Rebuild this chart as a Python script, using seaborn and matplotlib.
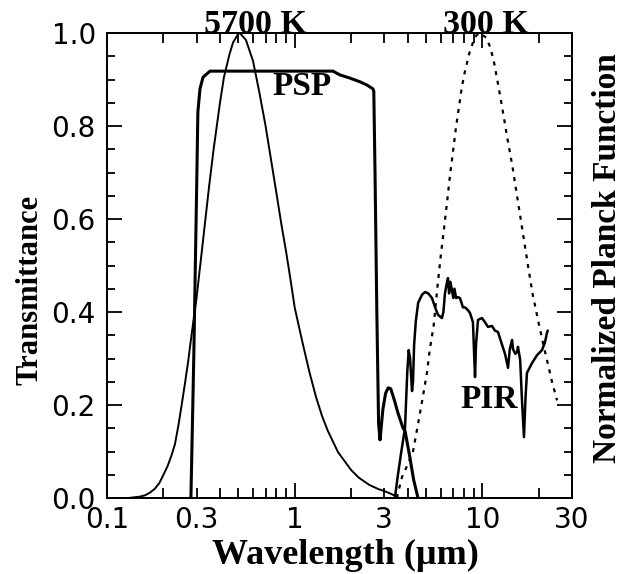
import numpy as np
import pandas as pd
import seaborn as sns
import matplotlib
matplotlib.use("Agg")
import matplotlib.pyplot as plt
from matplotlib.ticker import FixedLocator, FuncFormatter

# Normalized Planck function, 5700 K
wl_5700 = [0.13, 0.15, 0.16, 0.17, 0.18, 0.19, 0.20, 0.21, 0.22, 0.23, 0.24, 0.25,
           0.26, 0.27, 0.28, 0.30, 0.32, 0.35, 0.37, 0.40, 0.42, 0.45, 0.47, 0.50,
           0.51, 0.55, 0.60, 0.65, 0.70, 0.75, 0.80, 0.85, 0.90, 0.95, 1.0, 1.1,
           1.2, 1.3, 1.4, 1.5, 1.7, 2.0, 2.2, 2.5, 2.8, 3.0, 3.3, 3.6]
planck_5700 = [0.0, 0.003, 0.006, 0.012, 0.02, 0.032, 0.05, 0.068, 0.09, 0.115, 0.155, 0.20,
               0.245, 0.29, 0.34, 0.43, 0.53, 0.67, 0.75, 0.85, 0.905, 0.955, 0.98, 0.998,
               1.0, 0.985, 0.94, 0.87, 0.80, 0.725, 0.655, 0.588, 0.53, 0.47, 0.41, 0.335,
               0.27, 0.217, 0.176, 0.145, 0.099, 0.06, 0.0435, 0.028, 0.019, 0.015, 0.008, 0.0]

# Normalized Planck function, 300 K
wl_300 = [3.5, 3.73, 4.0, 4.27, 4.5, 4.83, 5.07, 5.25, 5.5, 5.75, 6.0, 6.25, 6.5, 6.75,
          7.0, 7.25, 7.5, 7.75, 8.0, 8.5, 9.0, 9.3, 9.66, 10.5, 11.0, 11.5, 12.0, 12.5,
          13.0, 13.5, 14.0, 14.5, 15.0, 16.0, 17.5, 18.5, 20.0, 21.0, 22.0, 23.5, 25.0]
planck_300 = [0.0, 0.045, 0.072, 0.10, 0.15, 0.22, 0.27, 0.32, 0.37, 0.45, 0.52, 0.58,
              0.64, 0.70, 0.75, 0.80, 0.84, 0.88, 0.91, 0.955, 0.985, 0.995, 1.0, 0.99,
              0.97, 0.94, 0.90, 0.86, 0.82, 0.78, 0.745, 0.71, 0.672, 0.60, 0.50, 0.44,
              0.374, 0.335, 0.30, 0.25, 0.21]

# PSP transmittance
wl_psp = [0.28, 0.29, 0.30, 0.305, 0.313, 0.325, 0.354, 0.8, 1.6, 1.74, 1.97, 2.23,
          2.43, 2.61, 2.64, 2.68, 2.74, 2.80, 2.85, 2.95, 3.05, 3.15, 3.25, 3.4, 3.55,
          3.78, 3.87, 4.1, 4.3, 4.54]
t_psp = [0.0, 0.30, 0.65, 0.83, 0.88, 0.905, 0.918, 0.918, 0.918, 0.91, 0.903, 0.895,
         0.888, 0.88, 0.875, 0.70, 0.40, 0.16, 0.125, 0.19, 0.225, 0.237, 0.235, 0.21, 0.183,
         0.15, 0.145, 0.09, 0.04, 0.0]

# PIR transmittance
wl_pir = [3.42, 3.55, 3.70, 3.87, 3.98, 4.05, 4.12, 4.22, 4.27, 4.33, 4.42, 4.55, 4.77,
          4.95, 5.15, 5.39, 5.6, 5.80, 6.09, 6.2, 6.32, 6.45, 6.56, 6.65, 6.75, 6.89,
          7.0, 7.1, 7.25, 7.41, 7.6, 7.88, 8.08, 8.38, 8.59, 8.91, 9.0, 9.14, 9.25,
          9.48, 9.95, 10.33, 10.71, 11.25, 11.67, 12.11, 12.72, 13.2, 13.7, 14.0, 14.4,
          14.56, 15.0, 15.3, 15.48, 15.9, 16.26, 16.66, 17.0, 17.28, 18.38, 19.54,
          20.78, 21.56, 22.08, 22.3]
t_pir = [0.0, 0.05, 0.10, 0.15, 0.27, 0.318, 0.30, 0.23, 0.25, 0.33, 0.38, 0.42, 0.437,
         0.443, 0.44, 0.43, 0.41, 0.394, 0.387, 0.40, 0.44, 0.46, 0.473, 0.44, 0.465, 0.447,
         0.43, 0.45, 0.43, 0.432, 0.43, 0.41, 0.41, 0.404, 0.398, 0.378, 0.33, 0.26, 0.33,
         0.383, 0.387, 0.378, 0.368, 0.37, 0.36, 0.357, 0.33, 0.31, 0.28, 0.32, 0.34,
         0.32, 0.31, 0.314, 0.325, 0.297, 0.21, 0.131, 0.22, 0.269, 0.29, 0.307,
         0.318, 0.335, 0.355, 0.36]

x_major = [0.1, 1, 10]
x_minor = [0.2, 0.3, 0.4, 0.5, 0.6, 0.7, 0.8, 0.9, 2, 3, 4, 5, 6, 7, 8, 9, 20, 30]
x_minor_labels = [0.3, 3, 30]

sns.set_style("ticks")
plt.rcParams['font.family'] = ['DejaVu Sans']
plt.rcParams['text.color'] = 'black'
plt.rcParams['axes.labelcolor'] = 'black'
serif = dict(family=['Liberation Serif', 'DejaVu Serif'], weight='bold', color='black')

fig = plt.figure(figsize=(6.23, 5.74), dpi=100)
ax = fig.add_axes([0.1717, 0.1324, 0.918 - 0.1717, 0.9425 - 0.1324])
ax.set_xscale('log')
ax2 = ax.twinx()

df_psp = pd.DataFrame({'wl': wl_psp, 't': t_psp})
df_pir = pd.DataFrame({'wl': wl_pir, 't': t_pir})
df_5700 = pd.DataFrame({'wl': wl_5700, 'b': planck_5700})
df_300 = pd.DataFrame({'wl': wl_300, 'b': planck_300})

sns.lineplot(data=df_psp, x='wl', y='t', ax=ax, color='black', lw=2.2,
             estimator=None, sort=False)
sns.lineplot(data=df_pir, x='wl', y='t', ax=ax, color='black', lw=1.8,
             estimator=None, sort=False)
sns.lineplot(data=df_5700, x='wl', y='b', ax=ax2, color='black', lw=1.4,
             estimator=None, sort=False)
sns.lineplot(data=df_300, x='wl', y='b', ax=ax2, color='black', lw=1.6,
             linestyle=(0, (1.8, 2.6)), estimator=None, sort=False)

for a in (ax, ax2):
    a.set_xlim(0.1, 30)
    a.set_ylim(0, 1.0)
    for s in a.spines.values():
        s.set_linewidth(1.4)
        s.set_color('black')

ax.xaxis.set_major_locator(FixedLocator(x_major))
ax.xaxis.set_minor_locator(FixedLocator(x_minor))
ax.xaxis.set_major_formatter(FuncFormatter(lambda v, _: f'{v:g}'))
ax.xaxis.set_minor_formatter(FuncFormatter(
    lambda v, _: f'{v:g}' if any(abs(v - l) < 1e-9 for l in x_minor_labels) else ''))
ax.set_yticks(np.arange(0, 1.01, 0.2))
ax.set_yticks(np.arange(0, 1.01, 0.05), minor=True)
ax.yaxis.set_major_formatter(FuncFormatter(lambda v, _: f'{v:.1f}'))

ax.tick_params(axis='both', which='both', direction='in', top=True, right=False,
               colors='black', labelsize=20, width=1.3)
ax.tick_params(axis='x', which='major', length=11, pad=6)
ax.tick_params(axis='x', which='minor', length=7, pad=6)
ax.tick_params(axis='y', which='major', length=11, pad=8)
ax.tick_params(axis='y', which='minor', length=6)

ax2.set_yticks(np.arange(0, 1.01, 0.2))
ax2.set_yticks(np.arange(0, 1.01, 0.05), minor=True)
ax2.tick_params(axis='y', which='both', direction='in', labelright=False, width=1.3,
                colors='black')
ax2.tick_params(axis='y', which='major', length=11)
ax2.tick_params(axis='y', which='minor', length=6)

ax.set_xlabel('Wavelength (µm)', fontsize=26, **serif)
ax.xaxis.set_label_coords(0.512, -0.088)
ax.set_ylabel('Transmittance', fontsize=22, va='center', **serif)
ax.yaxis.set_label_coords(-0.166, 0.447)
ax2.set_ylabel('Normalized Planck Function', fontsize=24, va='center', **serif)
ax2.yaxis.set_label_coords(1.076, 0.515)

ax.text(0.614, 1.0, '5700 K', ha='center', va='baseline', fontsize=24.5, **serif)
ax.text(10.45, 1.0, '300 K', ha='center', va='baseline', fontsize=24.5, **serif)
ax.text(1.094, 0.886, 'PSP', ha='center', va='center', fontsize=24, **serif)
ax.text(10.84, 0.211, 'PIR', ha='center', va='center', fontsize=24, **serif)

fig.savefig('out.png', dpi=100)
